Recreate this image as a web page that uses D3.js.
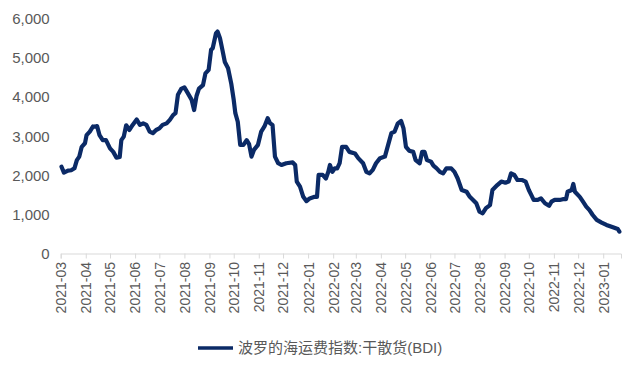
<!DOCTYPE html>
<html>
<head>
<meta charset="utf-8">
<script src="https://cdn.jsdelivr.net/npm/d3@7"></script>
<style>
  body { margin: 0; background: #fff; }
  text { font-family: "Liberation Sans", Arial, "Noto Sans CJK SC", sans-serif; fill: #595959; }
</style>
</head>
<body>
<div id="chart"></div>
<script>
// BDI readings (date, index value)
const dates = [
  '2021-03-02','2021-03-05','2021-03-10','2021-03-14','2021-03-18','2021-03-21','2021-03-24','2021-03-27','2021-03-31',
  '2021-04-02','2021-04-06','2021-04-10','2021-04-12','2021-04-15','2021-04-18','2021-04-22','2021-04-26',
  '2021-05-01','2021-05-05','2021-05-09','2021-05-13','2021-05-15','2021-05-18','2021-05-21','2021-05-25','2021-05-29',
  '2021-06-03','2021-06-07','2021-06-11','2021-06-15','2021-06-19','2021-06-23','2021-06-27',
  '2021-07-01','2021-07-05','2021-07-10','2021-07-14','2021-07-18','2021-07-21','2021-07-24','2021-07-28',
  '2021-08-01','2021-08-05','2021-08-10','2021-08-13','2021-08-16','2021-08-19','2021-08-24','2021-08-27','2021-08-31',
  '2021-09-03','2021-09-05','2021-09-09','2021-09-11','2021-09-14','2021-09-17','2021-09-20','2021-09-24','2021-09-28',
  '2021-10-01','2021-10-03','2021-10-06','2021-10-09','2021-10-13','2021-10-17','2021-10-20','2021-10-23','2021-10-26','2021-10-31',
  '2021-11-04','2021-11-08','2021-11-12','2021-11-15','2021-11-18','2021-11-21','2021-11-25','2021-11-29',
  '2021-12-05','2021-12-13','2021-12-16','2021-12-18','2021-12-22','2021-12-26','2021-12-30',
  '2022-01-03','2022-01-09','2022-01-12','2022-01-14','2022-01-19','2022-01-23','2022-01-26','2022-01-28','2022-01-31',
  '2022-02-03','2022-02-06','2022-02-09','2022-02-12','2022-02-17','2022-02-21','2022-02-28',
  '2022-03-04','2022-03-10','2022-03-14','2022-03-18','2022-03-22','2022-03-26','2022-03-31',
  '2022-04-06','2022-04-10','2022-04-14','2022-04-18','2022-04-22','2022-04-26','2022-04-29',
  '2022-05-02','2022-05-06','2022-05-11','2022-05-14','2022-05-19','2022-05-22','2022-05-25','2022-05-28',
  '2022-06-02','2022-06-05','2022-06-09','2022-06-13','2022-06-17','2022-06-21','2022-06-27',
  '2022-07-01','2022-07-05','2022-07-10','2022-07-16','2022-07-20','2022-07-24','2022-07-28',
  '2022-08-01','2022-08-05','2022-08-09','2022-08-14','2022-08-17','2022-08-23','2022-08-28',
  '2022-09-02','2022-09-06','2022-09-09','2022-09-13','2022-09-17','2022-09-23','2022-09-27',
  '2022-10-01','2022-10-04','2022-10-07','2022-10-12','2022-10-16','2022-10-21','2022-10-26','2022-10-29',
  '2022-11-02','2022-11-08','2022-11-12','2022-11-16','2022-11-18','2022-11-23','2022-11-25','2022-11-27',
  '2022-12-03','2022-12-07','2022-12-11','2022-12-15','2022-12-19','2022-12-24','2022-12-30',
  '2023-01-05','2023-01-13','2023-01-19','2023-01-21'
];
const values = [
  2220,2070,2120,2130,2180,2390,2480,2730,2820,
  3030,3120,3250,3245,3260,3030,2900,2900,
  2690,2600,2450,2470,2900,2990,3280,3160,3290,
  3430,3290,3330,3290,3120,3080,3160,
  3200,3290,3330,3420,3540,3590,4060,4210,
  4250,4110,3930,3670,4030,4220,4310,4610,4700,
  5210,5250,5630,5680,5510,5210,4900,4740,4340,
  3930,3590,3370,2780,2780,2900,2800,2480,2650,2780,
  3120,3250,3460,3330,3290,2480,2310,2265,
  2310,2330,2265,1840,1710,1450,1340,
  1410,1450,1450,2010,2010,1920,2090,2265,2090,
  2180,2180,2310,2730,2730,2600,2560,
  2440,2310,2090,2050,2140,2310,2440,
  2480,2780,3080,3120,3330,3390,3200,
  2730,2630,2600,2390,2310,2600,2600,2390,
  2350,2250,2180,2090,2050,2180,2180,
  2090,1920,1625,1580,1450,1370,1285,
  1070,1030,1160,1240,1625,1750,1840,
  1810,1840,2050,2010,1880,1880,1840,
  1625,1500,1370,1370,1410,1285,1220,1325,
  1370,1370,1390,1390,1580,1625,1780,1580,
  1450,1325,1200,1110,985,860,790,
  730,670,627,560
];
const monthTicks = [
  '2021-03','2021-04','2021-05','2021-06','2021-07','2021-08','2021-09','2021-10','2021-11','2021-12',
  '2022-01','2022-02','2022-03','2022-04','2022-05','2022-06','2022-07','2022-08','2022-09','2022-10',
  '2022-11','2022-12','2023-01'
];
const yTicks = [0, 1000, 2000, 3000, 4000, 5000, 6000];
const seriesName = '波罗的海运费指数:干散货(BDI)';

const width = 640, height = 373;
const margin = { top: 19, right: 19, bottom: 119.5, left: 60.7 };
const parse = d3.timeParse('%Y-%m-%d');
const parseMonth = d3.timeParse('%Y-%m');
const lineColor = '#0b2a66';

const data = dates.map((d, i) => ({ date: parse(d), value: values[i] }));

const svg = d3.select('#chart')
  .append('svg')
  .attr('width', width)
  .attr('height', height);

const x = d3.scaleTime()
  .domain([parse('2021-03-01'), parse('2023-01-23')])
  .range([margin.left, width - margin.right]);

const y = d3.scaleLinear()
  .domain([0, 6000])
  .range([height - margin.bottom, margin.top]);

// X axis: light grey baseline, small ticks, rotated month labels
const xAxis = svg.append('g')
  .attr('transform', `translate(0, ${y(0)})`)
  .call(d3.axisBottom(x)
    .tickValues(monthTicks.map(parseMonth))
    .tickFormat(d3.timeFormat('%Y-%m'))
    .tickSizeOuter(0)
    .tickSize(5));
xAxis.select('.domain').attr('stroke', '#d9d9d9');
xAxis.selectAll('.tick line').attr('stroke', '#d9d9d9');
xAxis.selectAll('.tick text')
  .attr('font-size', 14)
  .attr('transform', 'rotate(-90)')
  .attr('x', -8.5)
  .attr('y', 0)
  .attr('dy', '0.35em')
  .style('text-anchor', 'end');

// Y axis: labels only
const yAxis = svg.append('g')
  .attr('transform', `translate(${margin.left}, 0)`)
  .call(d3.axisLeft(y).tickValues(yTicks).tickFormat(d3.format(',')).tickSize(0));
yAxis.select('.domain').remove();
yAxis.selectAll('.tick text')
  .attr('font-size', 15)
  .attr('x', -11);

// Line
const line = d3.line()
  .x(d => x(d.date))
  .y(d => y(d.value));

svg.append('path')
  .datum(data)
  .attr('fill', 'none')
  .attr('stroke', lineColor)
  .attr('stroke-width', 4.2)
  .attr('stroke-linejoin', 'round')
  .attr('stroke-linecap', 'round')
  .attr('d', line);

// Legend
const legend = svg.append('g').attr('transform', 'translate(198, 348)');
legend.append('line')
  .attr('x1', 0).attr('x2', 35)
  .attr('stroke', lineColor)
  .attr('stroke-width', 3.6);
legend.append('text')
  .attr('x', 40)
  .attr('dy', '0.35em')
  .attr('font-size', 15)
  .text(seriesName);
</script>
</body>
</html>
